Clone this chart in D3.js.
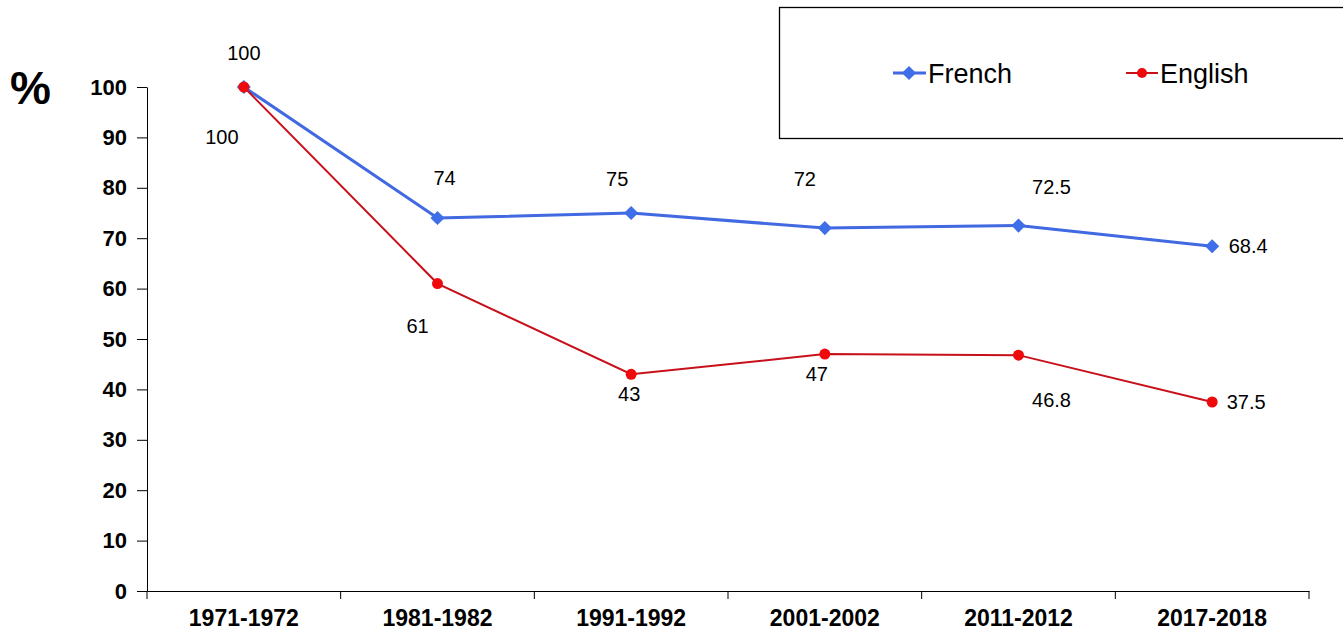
<!DOCTYPE html>
<html>
<head>
<meta charset="utf-8">
<script src="https://cdn.jsdelivr.net/npm/d3@7"></script>
<style>
  body { margin: 0; background: #fff; }
  text { font-family: "Liberation Sans", Arial, sans-serif; }
</style>
</head>
<body>
<svg id="chart" width="1343" height="633"></svg>
<script>
// data
var periods = ["1971-1972", "1981-1982", "1991-1992", "2001-2002", "2011-2012", "2017-2018"];
var french = [100, 74, 75, 72, 72.5, 68.4];
var english = [100, 61, 43, 47, 46.8, 37.5];
var yTicks = [0, 10, 20, 30, 40, 50, 60, 70, 80, 90, 100];

// where each value label sits relative to its point (dx, dy of baseline centre)
var frenchLabelOff = [[0, -27], [7, -33], [-14, -27], [-20, -42], [33, -32], [36, 7]];
var englishLabelOff = [[-22, 57], [-20, 49], [-2, 27], [-8, 27], [33, 52], [34, 7]];

var svg = d3.select("#chart");

var mLeft = 147, mRight = 1309, mTop = 87, mBottom = 591;

var x = d3.scaleBand()
    .domain(periods)
    .range([mLeft, mRight]);

var y = d3.scaleLinear()
    .domain([0, 100])
    .range([mBottom, mTop]);

var cx = function(d, i) { return x(periods[i]) + x.bandwidth() / 2; };

// y axis
var yAxis = svg.append("g")
    .attr("transform", "translate(" + mLeft + ",0)")
    .call(d3.axisLeft(y).tickValues(yTicks).tickSize(10).tickPadding(10).tickSizeOuter(0));
yAxis.select(".domain").attr("stroke", "#000");
yAxis.selectAll("line").attr("stroke", "#000");
yAxis.selectAll("text")
    .attr("font-size", 22)
    .attr("font-weight", "bold")
    .attr("fill", "#000")
    .attr("font-family", "Liberation Sans, Arial, sans-serif");

// x axis, ticks between categories
var xAxis = svg.append("g")
    .attr("transform", "translate(0," + mBottom + ")")
    .call(d3.axisBottom(x).tickSize(0).tickPadding(19));
xAxis.select(".domain").attr("stroke", "#000");
xAxis.selectAll("text")
    .attr("font-size", 23)
    .attr("font-weight", "bold")
    .attr("fill", "#000")
    .attr("font-family", "Liberation Sans, Arial, sans-serif");

var bounds = periods.map(function(p) { return x(p); }).concat([mRight]);
svg.append("g").selectAll("line")
    .data(bounds)
    .enter().append("line")
    .attr("x1", function(d) { return d; })
    .attr("x2", function(d) { return d; })
    .attr("y1", mBottom)
    .attr("y2", mBottom + 8)
    .attr("stroke", "#000");

// % label
svg.append("text")
    .attr("x", 10)
    .attr("y", 104)
    .attr("font-size", 46)
    .attr("font-weight", "bold")
    .text("%");

var line = d3.line()
    .x(cx)
    .y(function(d) { return y(d); });

var diamond = d3.symbol().type(d3.symbolSquare).size(100);

// French series
svg.append("path")
    .datum(french)
    .attr("d", line)
    .attr("fill", "none")
    .attr("stroke", "#4169E1")
    .attr("stroke-width", 3);

svg.append("g").selectAll("path")
    .data(french)
    .enter().append("path")
    .attr("d", diamond)
    .attr("transform", function(d, i) { return "translate(" + cx(d, i) + "," + y(d) + ") rotate(45)"; })
    .attr("fill", "#3F6FE8");

// English series
svg.append("path")
    .datum(english)
    .attr("d", line)
    .attr("fill", "none")
    .attr("stroke", "#C8101A")
    .attr("stroke-width", 2);

svg.append("g").selectAll("circle")
    .data(english)
    .enter().append("circle")
    .attr("cx", cx)
    .attr("cy", function(d) { return y(d); })
    .attr("r", 5.5)
    .attr("fill", "#EE0A0A");

// value labels
function labels(data, off) {
    svg.append("g").selectAll("text")
        .data(data)
        .enter().append("text")
        .attr("x", function(d, i) { return cx(d, i) + off[i][0]; })
        .attr("y", function(d, i) { return y(d) + off[i][1]; })
        .attr("text-anchor", "middle")
        .attr("font-size", 20)
        .attr("fill", "#000")
        .text(function(d) { return d; });
}
labels(french, frenchLabelOff);
labels(english, englishLabelOff);

// legend
var legend = svg.append("g");
legend.append("rect")
    .attr("x", 779.5)
    .attr("y", 7.5)
    .attr("width", 570)
    .attr("height", 131)
    .attr("fill", "#fff")
    .attr("stroke", "#000")
    .attr("stroke-width", 1.3);

legend.append("line")
    .attr("x1", 893).attr("x2", 926).attr("y1", 73).attr("y2", 73)
    .attr("stroke", "#4169E1").attr("stroke-width", 3);
legend.append("path")
    .attr("d", diamond)
    .attr("transform", "translate(909,73) rotate(45)")
    .attr("fill", "#3F6FE8");
legend.append("text")
    .attr("x", 928).attr("y", 83)
    .attr("font-size", 27)
    .text("French");

legend.append("line")
    .attr("x1", 1126).attr("x2", 1158).attr("y1", 73).attr("y2", 73)
    .attr("stroke", "#C8101A").attr("stroke-width", 2);
legend.append("circle")
    .attr("cx", 1142).attr("cy", 73).attr("r", 5)
    .attr("fill", "#EE0A0A");
legend.append("text")
    .attr("x", 1160).attr("y", 83)
    .attr("font-size", 27)
    .text("English");
</script>
</body>
</html>
